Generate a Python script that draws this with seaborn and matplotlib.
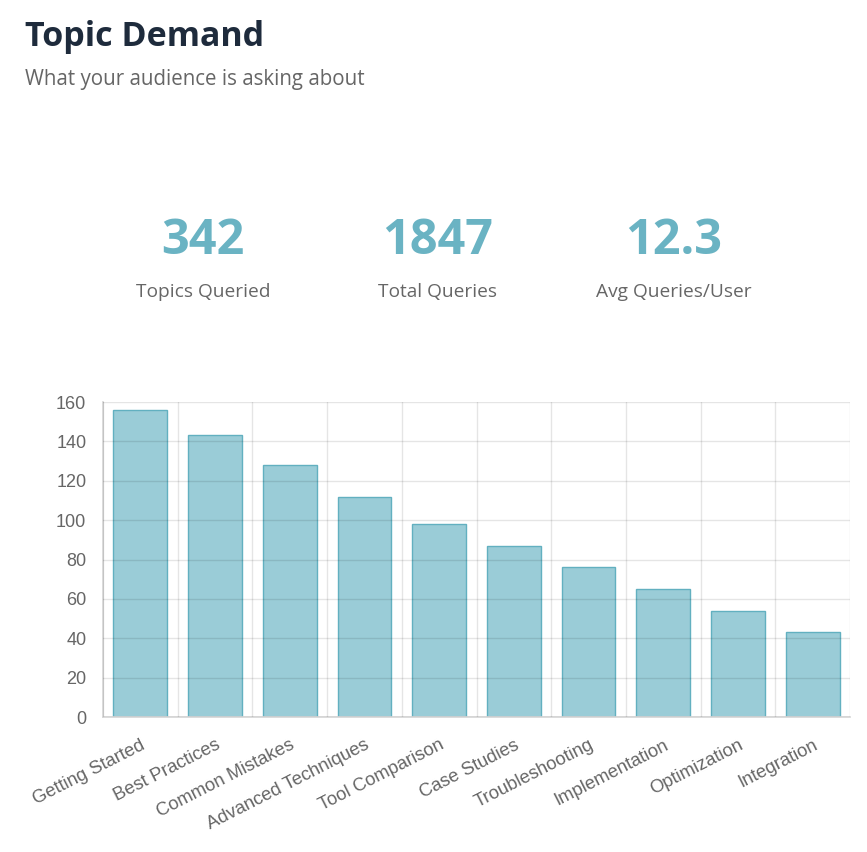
import matplotlib
matplotlib.use("Agg")
import matplotlib.pyplot as plt
import numpy as np
import pandas as pd
import seaborn as sns

# Data
topics = [
    "Getting Started",
    "Best Practices",
    "Common Mistakes",
    "Advanced Techniques",
    "Tool Comparison",
    "Case Studies",
    "Troubleshooting",
    "Implementation",
    "Optimization",
    "Integration",
]
queries = [156, 143, 128, 112, 98, 87, 76, 65, 54, 43]

stat_values = ["342", "1847", "12.3"]
stat_labels = ["Topics Queried", "Total Queries", "Avg Queries/User"]

y_ticks = [0, 20, 40, 60, 80, 100, 120, 140, 160]

df = pd.DataFrame({"topic": topics, "queries": queries})

sns.set_theme(style="white")
plt.rcParams["font.family"] = ["Open Sans", "DejaVu Sans"]

W, H = 867, 852
fig = plt.figure(figsize=(W / 100, H / 100), dpi=100)

# Header
fig.text(25 / W, 1 - 37 / H, "Topic Demand", fontsize=24.5, fontweight="bold",
         color="#1e2b3c", va="center", ha="left")
fig.text(25 / W, 1 - 80 / H, "What your audience is asking about", fontsize=14.8,
         color="#666666", va="center", ha="left")

# Stats
for cx, val, lab in zip([203, 438, 674], stat_values, stat_labels):
    fig.text(cx / W, 1 - 242 / H, val, fontsize=35, fontweight="bold",
             color="#6ab3c3", ha="center", va="center")
    fig.text(cx / W, 1 - 292 / H, lab, fontsize=13.8, color="#666666",
             ha="center", va="center")

# Bar chart
left, right, top, bottom = 103, 850, 402, 717
ax = fig.add_axes([left / W, 1 - bottom / H, (right - left) / W, (bottom - top) / H])

sns.barplot(data=df, x="topic", y="queries", ax=ax, width=0.72,
            color=(95 / 255, 175 / 255, 192 / 255, 0.63),
            edgecolor="#62b0c0", linewidth=1, saturation=1, zorder=1)

ax.set_xlim(-0.5, len(topics) - 0.5)
ax.set_ylim(0, 160)
ax.set_yticks(y_ticks)
ax.set_xlabel("")
ax.set_ylabel("")

ax.set_xticks(np.arange(-0.5, len(topics)), minor=True)
ax.grid(True, which="minor", axis="x", color="#000000", alpha=0.1, linewidth=1, zorder=3)
ax.grid(True, which="major", axis="y", color="#000000", alpha=0.1, linewidth=1, zorder=3)
ax.set_axisbelow(False)

ax.tick_params(axis="x", which="major", length=0, pad=14)
ax.tick_params(axis="x", which="minor", length=9, color="#e3e3e3", width=1)
ax.tick_params(axis="y", length=9, color="#e3e3e3", width=1, pad=3)

for lbl in ax.get_xticklabels():
    lbl.set_rotation(27)
    lbl.set_ha("right")
    lbl.set_va("top")
    lbl.set_rotation_mode("anchor")
    lbl.set_fontfamily("Liberation Sans")
    lbl.set_fontsize(13.2)
    lbl.set_color("#666666")
for lbl in ax.get_yticklabels():
    lbl.set_fontfamily("Liberation Sans")
    lbl.set_fontsize(13)
    lbl.set_color("#666666")

for side in ["top", "right"]:
    ax.spines[side].set_visible(False)
ax.spines["left"].set_color("#d6d6d6")
ax.spines["bottom"].set_color("#d6d6d6")

fig.savefig("out.png", dpi=100, facecolor="white")
